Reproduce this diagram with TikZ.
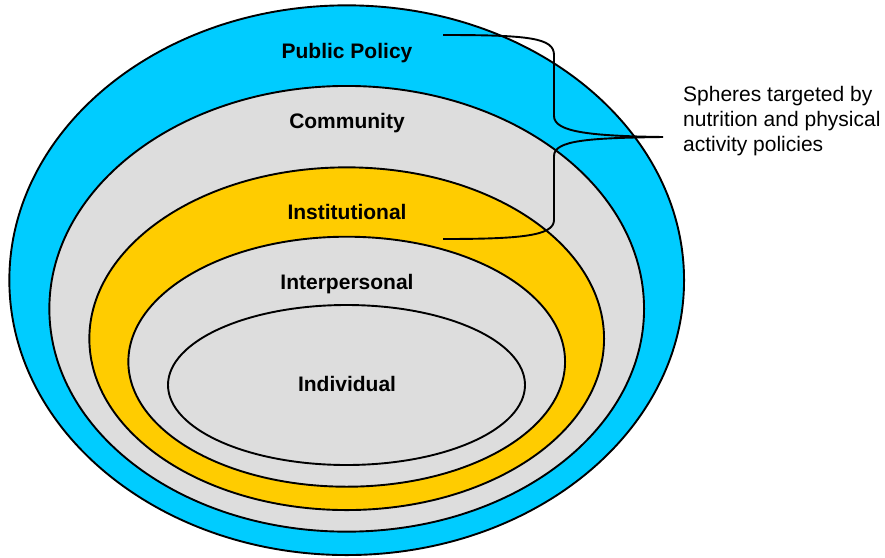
\documentclass[tikz,border=0pt]{standalone}
\usepackage{fontspec}
\setmainfont{Liberation Sans}
\usetikzlibrary{shapes.geometric}
\definecolor{pblue}{HTML}{00CCFF}
\definecolor{pgray}{HTML}{DDDDDD}
\definecolor{pyellow}{HTML}{FFCC00}
\begin{document}
\begin{tikzpicture}[x=1pt,y=-1pt,
  sphere/.style={ellipse, draw=black, line width=1.9pt, inner sep=0pt, outer sep=0pt},
  lbl/.style={font=\fontsize{21}{25}\selectfont\bfseries, anchor=base, inner sep=0pt},
  brace/.style={draw=black, line width=1.9pt}]
\useasboundingbox (0,0) rectangle (885,557);
\node[sphere, fill=pblue, minimum width=674.7pt, minimum height=549.7pt] (pub) at (346.7,280.2) {};
\node[sphere, fill=pgray, minimum width=594.7pt, minimum height=445.7pt] (com) at (346.7,308.8) {};
\node[sphere, fill=pyellow, minimum width=514.7pt, minimum height=342.7pt] (ins) at (346.7,338.7) {};
\node[sphere, fill=pgray, minimum width=436.7pt, minimum height=250pt] (int) at (346.7,361.7) {};
\node[sphere, fill=pgray, minimum width=357pt, minimum height=160pt] (ind) at (346.5,385) {};
\node[lbl] (tpub) at (347,58) {Public Policy};
\node[lbl] (tcom) at (347,128) {Community};
\node[lbl] (tins) at (347,219) {Institutional};
\node[lbl] (tint) at (347,289) {Interpersonal};
\node[lbl] (tind) at (347,391.5) {Individual};
\coordinate (bTop) at (443,35);
\coordinate (bTip) at (663,137);
\coordinate (bBot) at (443,239);
\path[brace] (bTop) .. controls (530,35) and (554,38) .. (554,55) -- (554,116)
  .. controls (554,132) and (590,136) .. (bTip)
  .. controls (590,138) and (554,140) .. (554,156) -- (554,220)
  .. controls (554,236) and (520,239) .. (bBot);
\node[anchor=base west, align=left, inner sep=0pt, font=\fontsize{21}{25}\selectfont] (note) at (683,151.7) {Spheres targeted by\\nutrition and physical\\activity policies};
\end{tikzpicture}
\end{document}
